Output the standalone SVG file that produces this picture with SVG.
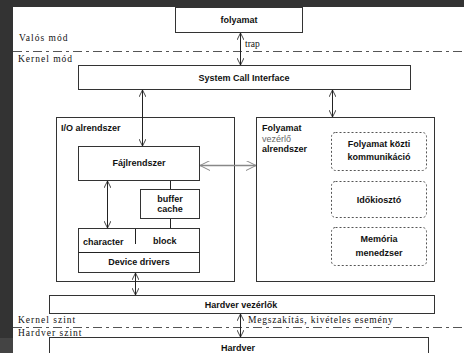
<svg xmlns="http://www.w3.org/2000/svg" width="464" height="353" viewBox="0 0 464 353">
<defs>
<style>
.box{fill:#fff;stroke:#333;stroke-width:1}
.dbox{fill:none;stroke:#555;stroke-width:1;stroke-dasharray:2,2}
.b{font-family:"Liberation Sans",Arial,sans-serif;font-weight:bold;font-size:9px;fill:#111}
.s{font-family:"Liberation Serif","Times New Roman",serif;font-size:9.5px;letter-spacing:1px;fill:#111}
.ln{stroke:#222;stroke-width:1;fill:none}
.dd{stroke:#555;stroke-width:1;stroke-dasharray:9,4,3,4;fill:none}
</style>
<marker id="ah" viewBox="0 0 10 10" refX="10" refY="5" markerWidth="7" markerHeight="7" orient="auto-start-reverse" markerUnits="userSpaceOnUse">
<path d="M0,0 L10,5 L0,10" fill="none" stroke="#222" stroke-width="1.2"/>
</marker>
<marker id="ahg" viewBox="0 0 10 10" refX="10" refY="5" markerWidth="10" markerHeight="10" orient="auto-start-reverse" markerUnits="userSpaceOnUse">
<path d="M0,0 L10,5 L0,10" fill="none" stroke="#888" stroke-width="1"/>
</marker>
</defs>
<rect x="0" y="0" width="464" height="353" fill="#333"/>
<rect x="0" y="338" width="13" height="15" fill="#444"/>
<rect x="13" y="7" width="451" height="346" fill="#fff"/>

<g id="levels">
<text class="s" x="19" y="41">Valós mód</text>
<line class="dd" x1="13" y1="51.5" x2="464" y2="51.5"/>
<text class="s" x="18" y="62">Kernel mód</text>
<text class="s" x="18" y="323">Kernel szint</text>
<line class="dd" x1="13" y1="327.5" x2="464" y2="327.5"/>
<text class="s" x="18" y="336">Hardver szint</text>
</g>

<g id="folyamat">
<rect class="box" x="175.5" y="7.5" width="127" height="25"/>
<text class="b" x="239" y="23" text-anchor="middle">folyamat</text>
</g>

<g id="sci">
<rect class="box" x="78.5" y="65.5" width="332" height="24"/>
<text class="b" x="244" y="80.5" text-anchor="middle">System Call Interface</text>
</g>

<g id="io">
<rect class="box" x="56.5" y="117.5" width="178" height="164"/>
<text class="b" x="61" y="131">I/O alrendszer</text>
</g>

<g id="fajlrendszer">
<rect class="box" x="78.5" y="146.5" width="121" height="34"/>
<text class="b" x="139" y="166" text-anchor="middle">Fájlrendszer</text>
</g>

<g id="buffer">
<rect class="box" x="140.5" y="189.5" width="59" height="29"/>
<text class="b" x="170" y="202" text-anchor="middle">buffer</text>
<text class="b" x="170" y="212" text-anchor="middle">cache</text>
</g>

<g id="devicedrivers">
<rect class="box" x="78.5" y="228.5" width="121" height="44"/>
<line class="ln" x1="78.5" y1="252.5" x2="199.5" y2="252.5"/>
<line class="ln" x1="135.5" y1="229" x2="135.5" y2="244"/>
<text class="b" x="83" y="245">character</text>
<text class="b" x="153" y="244">block</text>
<text class="b" x="139" y="265" text-anchor="middle">Device drivers</text>
</g>

<g id="folyamatvezerlo">
<rect class="box" x="256.5" y="117.5" width="178" height="164"/>
<text class="b" x="262" y="131">Folyamat</text>
<text class="b" x="262" y="142" style="fill:#666;font-weight:normal">vezérlő</text>
<text class="b" x="262" y="152">alrendszer</text>
</g>

<g id="ipc">
<rect class="dbox" x="331.5" y="132.5" width="95" height="38" rx="4"/>
<text class="b" x="379" y="147" text-anchor="middle">Folyamat közti</text>
<text class="b" x="379" y="160" text-anchor="middle">kommunikáció</text>
</g>

<g id="idokioszto">
<rect class="dbox" x="331.5" y="181.5" width="95" height="36" rx="4"/>
<text class="b" x="379" y="203" text-anchor="middle">Időkiosztó</text>
</g>

<g id="memoria">
<rect class="dbox" x="331.5" y="227.5" width="95" height="38" rx="4"/>
<text class="b" x="379" y="242" text-anchor="middle">Memória</text>
<text class="b" x="379" y="256" text-anchor="middle">menedzser</text>
</g>

<g id="hardvervezerlok">
<rect class="box" x="49.5" y="295.5" width="385" height="18"/>
<text class="b" x="241" y="307.5" text-anchor="middle">Hardver vezérlők</text>
</g>

<g id="hardver">
<rect class="box" x="49.5" y="337.5" width="379" height="20"/>
<text class="b" x="238" y="351" text-anchor="middle">Hardver</text>
</g>

<g id="connectors">
<line class="ln" x1="240.5" y1="33" x2="240.5" y2="65" marker-start="url(#ah)" marker-end="url(#ah)"/>
<text class="s" x="245" y="47" style="letter-spacing:0">trap</text>
<line class="ln" x1="142.5" y1="90" x2="142.5" y2="146" marker-start="url(#ah)" marker-end="url(#ah)"/>
<line class="ln" x1="332.5" y1="90" x2="332.5" y2="117" marker-start="url(#ah)" marker-end="url(#ah)"/>
<line x1="200" y1="165.5" x2="256" y2="165.5" stroke="#888" stroke-width="1.5" marker-start="url(#ahg)" marker-end="url(#ahg)"/>
<line class="ln" x1="107.5" y1="181" x2="107.5" y2="228" marker-start="url(#ah)" marker-end="url(#ah)"/>
<line class="ln" x1="170.5" y1="181" x2="170.5" y2="189"/>
<line class="ln" x1="170.5" y1="219" x2="170.5" y2="228"/>
<line class="ln" x1="135.5" y1="273" x2="135.5" y2="295" marker-start="url(#ah)" marker-end="url(#ah)"/>
<line class="ln" x1="240.5" y1="314" x2="240.5" y2="337" marker-start="url(#ah)" marker-end="url(#ah)"/>
<text class="s" x="248" y="323" style="letter-spacing:0.8px">Megszakítás, kivételes esemény</text>
</g>
</svg>
